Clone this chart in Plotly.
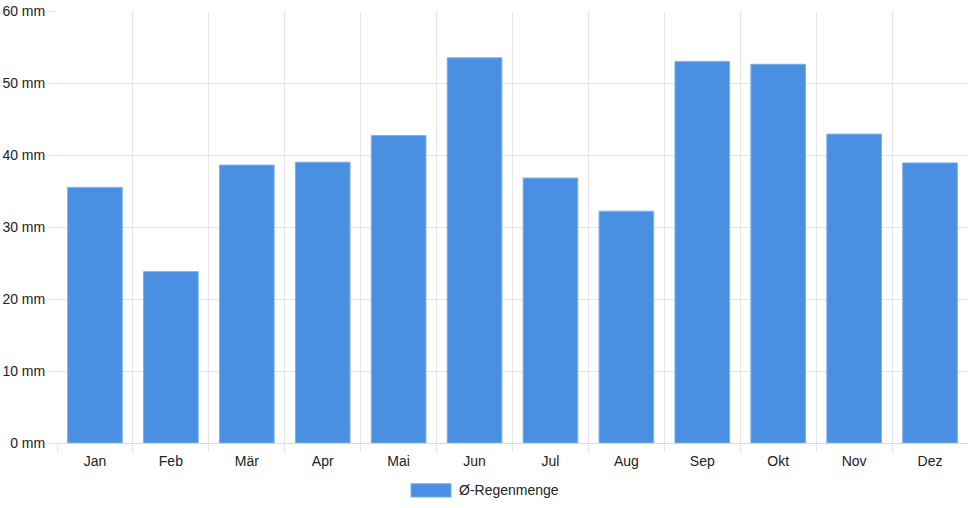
import plotly.graph_objects as go

# Monthly average rainfall (mm)
months = ["Jan", "Feb", "Mär", "Apr", "Mai", "Jun", "Jul", "Aug", "Sep", "Okt", "Nov", "Dez"]
rain_mm = [35.5, 23.8, 38.6, 39.0, 42.7, 53.5, 36.8, 32.2, 53.0, 52.6, 42.9, 38.9]
series_name = "Ø-Regenmenge"

bar_color = "#4A90E2"
bar_edge = "#7fb0ea"
grid_color = "#e5e5e5"
text_color = "#222222"

fig = go.Figure(
    go.Bar(
        x=months,
        y=rain_mm,
        name=series_name,
        marker=dict(color=bar_color, line=dict(color=bar_edge, width=1)),
        showlegend=False,
    )
)

fig.update_layout(
    width=968,
    height=508,
    margin=dict(l=57, r=0, t=11, b=65),
    paper_bgcolor="white",
    plot_bgcolor="white",
    bargap=0.28,
    font=dict(family="Liberation Sans, Arial, sans-serif", size=14, color=text_color),
)

fig.update_xaxes(
    type="category",
    tickson="boundaries",
    showgrid=True,
    gridcolor=grid_color,
    gridwidth=1,
    ticks="outside",
    ticklen=9,
    tickcolor=grid_color,
    ticklabelstandoff=8,
    showline=False,
    zeroline=False,
)

fig.update_yaxes(
    range=[0, 60],
    dtick=10,
    ticksuffix=" mm",
    showgrid=True,
    gridcolor=grid_color,
    ticks="outside",
    ticklen=8,
    tickcolor=grid_color,
    zeroline=True,
    zerolinecolor="#d9d9d9",
    zerolinewidth=1,
    showline=False,
)

# Chart.js-style legend: wide colour box and label below the axis
fig.add_shape(
    type="rect",
    xref="paper",
    yref="paper",
    x0=0.3886,
    x1=0.4325,
    y0=-0.0942,
    y1=-0.1252,
    fillcolor=bar_color,
    line=dict(color=bar_edge, width=1),
)
fig.add_annotation(
    text=series_name,
    xref="paper",
    yref="paper",
    x=0.4392,
    y=-0.1088,
    xanchor="left",
    yanchor="middle",
    showarrow=False,
    font=dict(size=14, color=text_color),
)

# page sits flush in the window, like the reference
fig.write_html(
    "out.html",
    config={"displayModeBar": False},
    post_script="document.body.style.margin='0';",
)
